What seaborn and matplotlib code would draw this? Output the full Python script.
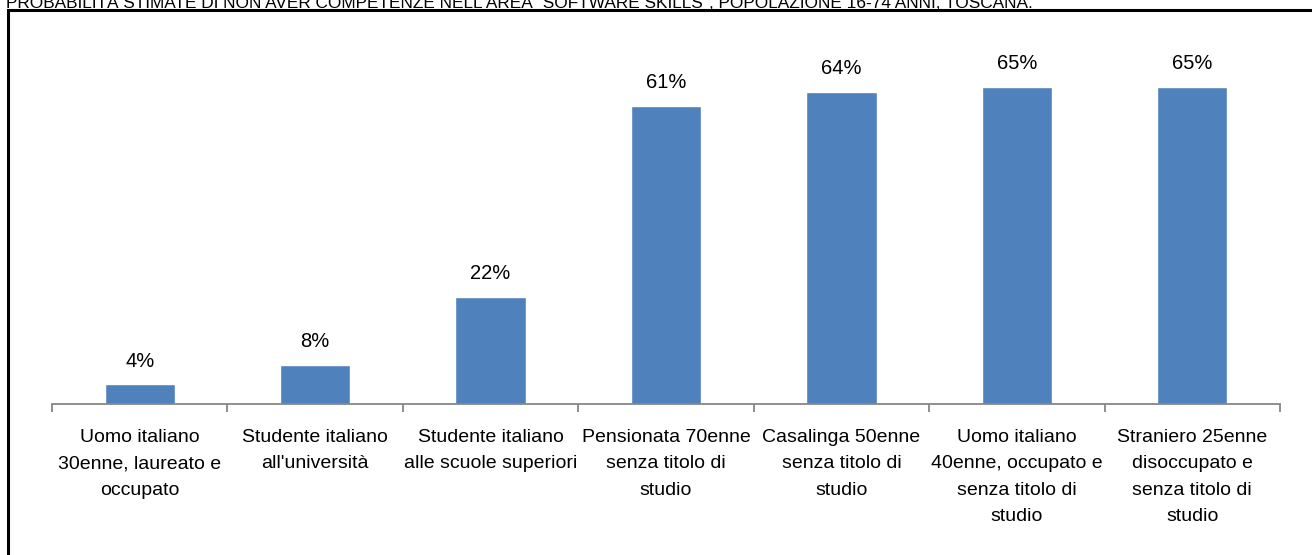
import matplotlib
matplotlib.use("Agg")
import matplotlib.pyplot as plt
import matplotlib.patches as mpatches
import seaborn as sns
import pandas as pd
import numpy as np

categories = [
    "Uomo italiano\n30enne, laureato e\noccupato",
    "Studente italiano\nall'università",
    "Studente italiano\nalle scuole superiori",
    "Pensionata 70enne\nsenza titolo di\nstudio",
    "Casalinga 50enne\nsenza titolo di\nstudio",
    "Uomo italiano\n40enne, occupato e\nsenza titolo di\nstudio",
    "Straniero 25enne\ndisoccupato e\nsenza titolo di\nstudio",
]
values = [0.04, 0.08, 0.22, 0.61, 0.64, 0.65, 0.65]
value_labels = ["4%", "8%", "22%", "61%", "64%", "65%", "65%"]
title = "PROBABILITÀ STIMATE DI NON AVER COMPETENZE NELL'AREA \"SOFTWARE SKILLS\", POPOLAZIONE 16-74 ANNI, TOSCANA."

sns.set_theme(style="white")
plt.rcParams['font.family'] = ['Liberation Sans', 'DejaVu Sans']

W, H = 1312, 555
fig = plt.figure(figsize=(W / 100, H / 100), dpi=100)
ax = fig.add_axes([52 / W, 1 - 404 / H, (1280 - 52) / W, (404 - 40) / H])

df = pd.DataFrame({"cat": categories, "val": values})
sns.barplot(data=df, x="cat", y="val", color="#4F81BD", saturation=1, width=0.4, ax=ax)

ax.set_xlim(-0.5, len(categories) - 0.5)
ax.set_ylim(0, 0.746)
ax.set_xlabel("")
ax.set_ylabel("")
ax.set_yticks([])

for s in ["top", "right", "left"]:
    ax.spines[s].set_visible(False)
ax.spines["bottom"].set_color("#868686")
ax.spines["bottom"].set_linewidth(1.3)

# major ticks at category boundaries, labels at centers
ax.set_xticks(np.arange(-0.5, len(categories), 1.0))
ax.set_xticklabels([])
ax.tick_params(axis="x", which="major", direction="out", length=6, width=1.3, color="#868686", bottom=True)
ax.set_xticks(np.arange(len(categories)), minor=True)
ax.set_xticklabels(categories, minor=True, fontsize=14, color="black", linespacing=1.72)
ax.tick_params(axis="x", which="minor", length=0, pad=18)

for cont in ax.containers:
    ax.bar_label(cont, labels=value_labels, padding=10, fontsize=14.5, color="black")

# title (clipped at top) and frame
fig.text(6 / W, 1 - 8 / H, title, fontsize=12.4, ha="left", va="baseline", color="black")
frame = mpatches.Rectangle((8 / W, -0.1), 1.2, (1 - 10 / H) + 0.1, transform=fig.transFigure,
                           fill=False, edgecolor="black", linewidth=2.2, clip_on=False)
fig.patches.append(frame)

fig.savefig("out.png", dpi=100)
